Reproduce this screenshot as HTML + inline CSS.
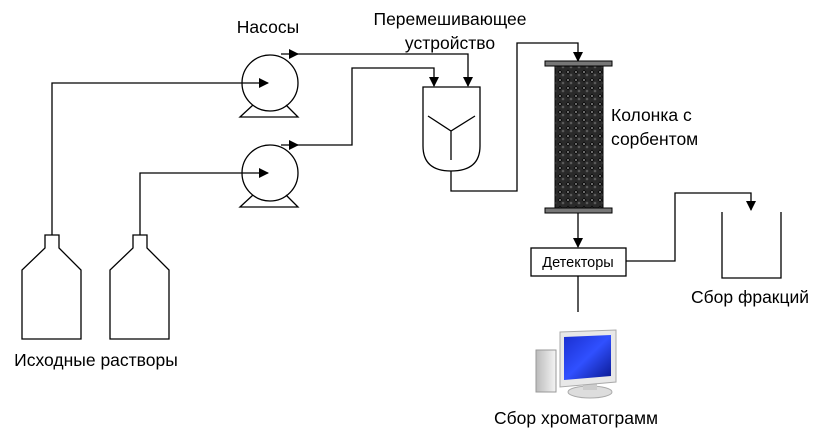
<!DOCTYPE html>
<html><head><meta charset="utf-8"><style>
html,body{margin:0;padding:0;background:#fff;}
svg{display:block;}
text{font-family:"Liberation Sans","DejaVu Sans",sans-serif;font-size:17.5px;fill:#000;}
</style></head><body>
<svg width="823" height="441" viewBox="0 0 823 441" xmlns="http://www.w3.org/2000/svg">
<defs>
<pattern id="beads" width="8" height="8" patternUnits="userSpaceOnUse">
<rect width="8" height="8" fill="#ddd"/>
<circle cx="4" cy="4" r="4.6" fill="#2a2a2a" stroke="#000" stroke-width="0.8"/>
<circle cx="3" cy="3" r="1.3" fill="#5a5a5a"/>
</pattern>
<marker id="ar" markerWidth="10" markerHeight="10" refX="9" refY="5" orient="auto" markerUnits="userSpaceOnUse">
<path d="M0,0 L10,5 L0,10 z" fill="#000"/>
</marker>
<linearGradient id="scr" x1="0" y1="0" x2="1" y2="1">
<stop offset="0" stop-color="#1a2fd0"/><stop offset="0.5" stop-color="#3050ff"/><stop offset="1" stop-color="#0a1890"/>
</linearGradient>
<linearGradient id="case" x1="0" y1="0" x2="1" y2="0">
<stop offset="0" stop-color="#bbb"/><stop offset="1" stop-color="#f4f4f4"/>
</linearGradient>
</defs>
<g fill="none" stroke="#000" stroke-width="1.3">
<path d="M45,235 H59 V248 L81,270 V339 H22 V270 L45,248 Z"/>
<path d="M133,235 H147 V248 L169,270 V339 H110 V270 L133,248 Z"/>
<path d="M52,235 V83 H268" marker-end="url(#ar)"/>
<path d="M140,235 V173 H268" marker-end="url(#ar)"/>
<circle cx="270" cy="83" r="28"/>
<path d="M253,105 L240,117 H298 L286,105"/>
<circle cx="270" cy="173" r="28"/>
<path d="M253,195 L240,207 H298 L286,195"/>
<path d="M281,54 H298" marker-end="url(#ar)"/>
<path d="M290,54 H468 V86" marker-end="url(#ar)"/>
<path d="M281,145 H298" marker-end="url(#ar)"/>
<path d="M290,145 H352 V68 H434 V86" marker-end="url(#ar)"/>
<path d="M423,87 H480 V146 Q480,171 451,171 Q423,171 423,146 Z"/>
<path d="M428,116 L451,131 L475,116 M451,131 V160"/>
<path d="M451,171 V191 H517 V43 H578 V61" marker-end="url(#ar)"/>
<path d="M578,212 V247" marker-end="url(#ar)"/>
<rect x="531" y="248" width="95" height="28"/>
<path d="M626,261 H675 V193 H751 V210" marker-end="url(#ar)"/>
<path d="M722,212 V278 H781 V212"/>
<path d="M578,276 V312"/>
</g>
<rect x="555" y="66" width="48" height="143" fill="url(#beads)" stroke="#000"/>
<rect x="545" y="61" width="67" height="5" fill="#777" stroke="#000" stroke-width="1"/>
<rect x="545" y="208" width="67" height="5" fill="#777" stroke="#000" stroke-width="1"/>
<g>
<rect x="536" y="350" width="20" height="42" fill="url(#case)" stroke="#999"/>
<ellipse cx="590" cy="392" rx="22" ry="6" fill="#ddd" stroke="#aaa"/>
<rect x="583" y="380" width="14" height="10" fill="#ccc"/>
<path d="M560,332 L616,330 V382 L560,387 Z" fill="#e8e8e8" stroke="#aaa"/>
<path d="M564,337 L611,335 V376 L564,380 Z" fill="url(#scr)"/>
</g>
<text x="268" y="33" text-anchor="middle">Насосы</text>
<text x="450" y="25" text-anchor="middle">Перемешивающее</text>
<text x="450" y="49" text-anchor="middle">устройство</text>
<text x="611" y="121">Колонка с</text>
<text x="611" y="145">сорбентом</text>
<text x="578" y="267" text-anchor="middle" style="font-size:14.5px">Детекторы</text>
<text x="750" y="303" text-anchor="middle">Сбор фракций</text>
<text x="96" y="366" text-anchor="middle">Исходные растворы</text>
<text x="576" y="424" text-anchor="middle">Сбор хроматограмм</text>
</svg>
</body></html>
